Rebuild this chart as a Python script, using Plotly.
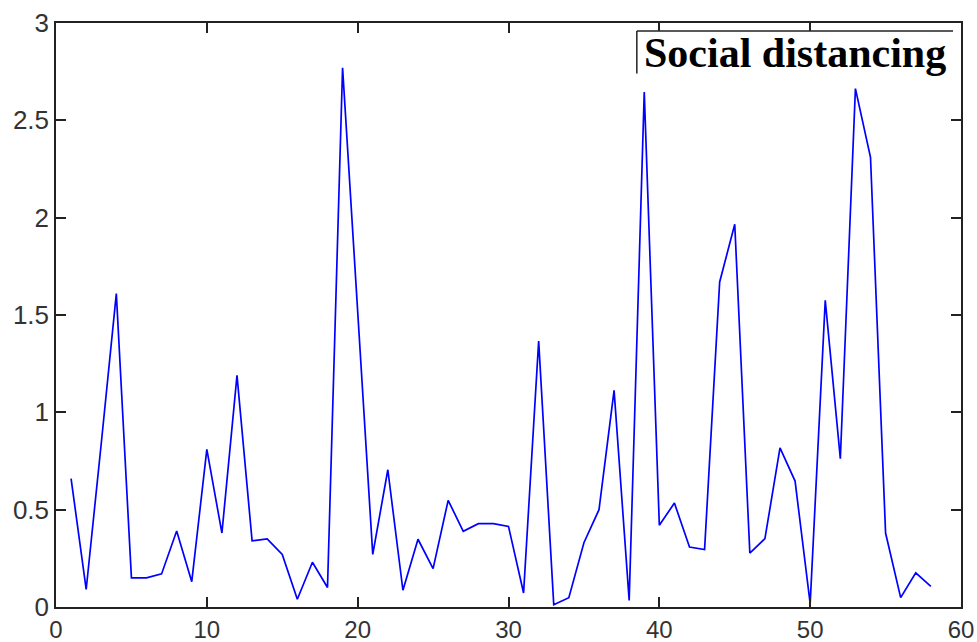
import plotly.graph_objects as go

days = list(range(1, 59))
values = [0.66, 0.09, 0.84, 1.61, 0.15, 0.15, 0.17, 0.39, 0.13, 0.81,
          0.38, 1.19, 0.34, 0.35, 0.27, 0.04, 0.23, 0.10, 2.77, 1.52,
          0.27, 0.705, 0.086, 0.348, 0.197, 0.548, 0.389, 0.428, 0.428, 0.414,
          0.072, 1.366, 0.012, 0.048, 0.33, 0.50, 1.113, 0.034, 2.645, 0.42,
          0.534, 0.308, 0.295, 1.67, 1.966, 0.277, 0.351, 0.817, 0.647, 0.017,
          1.575, 0.762, 2.663, 2.31, 0.38, 0.048, 0.175, 0.106]

x_ticks = [0, 10, 20, 30, 40, 50, 60]
y_ticks = [0, 0.5, 1, 1.5, 2, 2.5, 3]
y_tick_labels = ["0", "0.5", "1", "1.5", "2", "2.5", "3"]
legend_label = "Social distancing"

fig = go.Figure()
fig.add_trace(go.Scatter(x=days, y=values, mode="lines",
                         line=dict(color="#0000FF", width=1.7),
                         name=legend_label, showlegend=False))

axis_common = dict(showline=True, linecolor="#222222", linewidth=1.5,
                   mirror="ticks", ticks="inside", ticklen=10, tickwidth=1.5,
                   tickcolor="#222222", showgrid=False, zeroline=False)

fig.update_xaxes(range=[0, 60], tickvals=x_ticks,
                 tickfont=dict(family="Liberation Sans, Arial", size=24, color="#333333"),
                 **axis_common)
fig.update_yaxes(range=[0, 3], tickvals=y_ticks, ticktext=y_tick_labels,
                 tickfont=dict(family="Liberation Sans, Arial", size=26, color="#333333"),
                 **axis_common)

# legend-like box (top and left borders visible)
bx0, bx1, by0, by1 = 0.6418, 0.9912, 0.9134, 0.9863
fig.add_shape(type="rect", xref="paper", yref="paper", x0=bx0, x1=bx1, y0=by0, y1=by1,
              fillcolor="white", line=dict(width=0), layer="above")
fig.add_shape(type="line", xref="paper", yref="paper", x0=bx0, x1=bx1, y0=by1, y1=by1,
              line=dict(color="#222222", width=1.5))
fig.add_shape(type="line", xref="paper", yref="paper", x0=bx0, x1=bx0, y0=by0, y1=by1,
              line=dict(color="#222222", width=1.5))
fig.add_annotation(xref="paper", yref="paper", x=0.6475, y=0.948, xanchor="left", yanchor="middle",
                   text="<b>" + legend_label + "</b>", showarrow=False,
                   font=dict(family="Liberation Serif, Times New Roman", size=42, color="black"))

fig.update_layout(width=977, height=642, plot_bgcolor="white", paper_bgcolor="white",
                  margin=dict(l=56, r=16, t=23, b=35, autoexpand=False), showlegend=False)

fig.write_html("out.html", config={"displayModeBar": False},
               post_script="document.body.style.margin='0';document.body.style.overflow='hidden';")
